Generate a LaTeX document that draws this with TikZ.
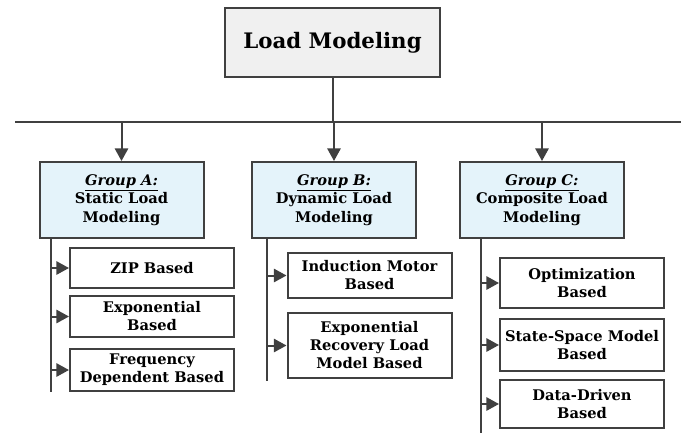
\documentclass[tikz,border=0pt]{standalone}
\usepackage{fontspec}
\setmainfont{DejaVu Serif}
\usepackage{xcolor}
\usepackage{tikz}
\usetikzlibrary{arrows.meta, positioning, calc}

\definecolor{linegray}{HTML}{404040}
\definecolor{topfill}{HTML}{F0F0F0}
\definecolor{grpfill}{HTML}{E4F3FA}

\tikzset{
    topbox/.style={draw=linegray, line width=1.5pt, fill=topfill, minimum width=161pt, minimum height=52pt, align=center, font=\fontsize{16}{19}\selectfont\bfseries},
    grpbox/.style={draw=linegray, line width=1.5pt, fill=grpfill, minimum width=123pt, minimum height=57pt, align=center, font=\fontsize{11}{14}\selectfont\bfseries},
    subbox/.style={draw=linegray, line width=1.5pt, fill=white, minimum width=123pt, align=center, inner sep=1pt, font=\fontsize{11}{13.5}\selectfont\bfseries},
    wire/.style={draw=linegray, line width=1.5pt},
    arr/.style={wire, -{Triangle[length=9.5pt, width=10pt]}}
}

\begin{document}
\begin{tikzpicture}[x=0.75pt, y=-0.75pt]
    \useasboundingbox (0,0) rectangle (681,433);

    % 顶层框
    \node[topbox] (top) at (332.5, 42.5) {Load Modeling};

    % 总线
    \coordinate (busL) at (15, 122);
    \coordinate (busR) at (681, 122);
    \draw[wire] (busL) -- (busR);
    \draw[wire] (top.south) -- (top.south |- busL);

    % 三组
    \node[grpbox] (grpA) at (121.5, 200) {\underline{\textit{Group A:}}\\Static Load\\Modeling};
    \node[grpbox] (grpB) at (334, 200) {\underline{\textit{Group B:}}\\Dynamic Load\\Modeling};
    \node[grpbox] (grpC) at (542, 200) {\underline{\textit{Group C:}}\\Composite Load\\Modeling};

    \draw[arr] (grpA.north |- busL) -- (grpA.north);
    \draw[arr] (grpB.north |- busL) -- (grpB.north);
    \draw[arr] (grpC.north |- busL) -- (grpC.north);

    % Group A
    \node[subbox, minimum height=30pt] (zip) at (152, 268) {ZIP Based};
    \node[subbox, minimum height=31pt] (expo) at (152, 316.5) {Exponential\\Based};
    \node[subbox, minimum height=31.5pt] (freq) at (152, 370) {Frequency\\Dependent Based};
    \coordinate (tA) at (51, 238);
    \coordinate (eA) at (51, 392);
    \draw[wire] (tA) -- (eA);
    \foreach \n in {zip, expo, freq}
        \draw[arr] (tA |- \n.west) -- (\n.west);

    % Group B
    \node[subbox, minimum height=34pt] (induc) at (369.5, 275.5) {Induction Motor\\Based};
    \node[subbox, minimum height=49pt] (exprec) at (369.5, 345.5) {Exponential\\Recovery Load\\Model Based};
    \coordinate (tB) at (267, 238);
    \coordinate (eB) at (267, 381);
    \draw[wire] (tB) -- (eB);
    \foreach \n in {induc, exprec}
        \draw[arr] (tB |- \n.west) -- (\n.west);

    % Group C
    \node[subbox, minimum height=37.5pt] (optim) at (582, 283) {Optimization\\Based};
    \node[subbox, minimum height=39pt] (ssm) at (582, 345) {State-Space Model\\Based};
    \node[subbox, minimum height=36pt] (ddriv) at (582, 404) {Data-Driven\\Based};
    \coordinate (tC) at (481, 238);
    \coordinate (eC) at (481, 433);
    \draw[wire] (tC) -- (eC);
    \foreach \n in {optim, ssm, ddriv}
        \draw[arr] (tC |- \n.west) -- (\n.west);
\end{tikzpicture}
\end{document}
